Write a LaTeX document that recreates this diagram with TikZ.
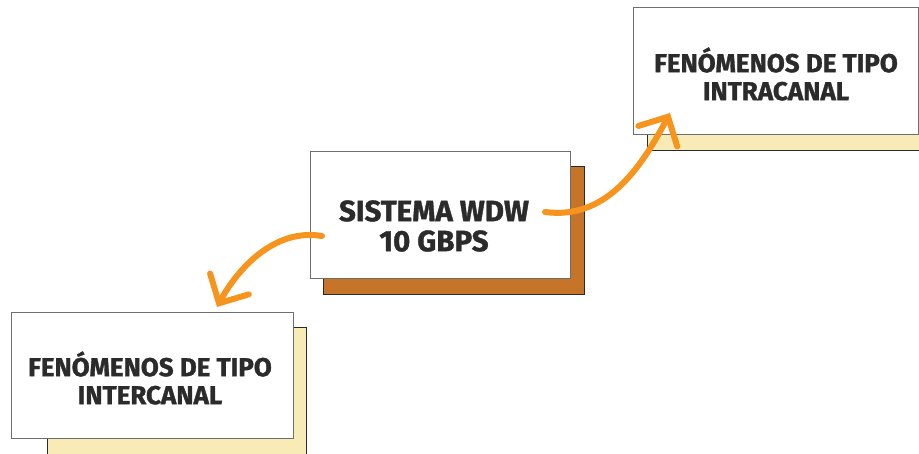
\documentclass[tikz,border=0pt]{standalone}
\usepackage{fontspec}
\setmainfont{Fira Sans}[BoldFeatures={FakeBold=1.2}]
\usetikzlibrary{arrows.meta}
\definecolor{inkgray}{HTML}{2B2B2B}
\definecolor{framegray}{HTML}{6E6E6E}
\definecolor{rust}{HTML}{C67428}
\definecolor{cream}{HTML}{F9EBB5}
\definecolor{tangerine}{HTML}{F7941D}
\tikzset{
  card/.style={draw=framegray, line width=1pt, fill=white, rectangle, inner sep=0pt, anchor=north west},
  backcard/.style={draw=inkgray, line width=0.9pt, rectangle, inner sep=0pt, anchor=north west},
  cardtext/.style={text=inkgray, align=center, font=\fontsize{26}{28}\selectfont\bfseries},
  hubtext/.style={text=inkgray, align=center, font=\fontsize{29.5}{30}\selectfont\bfseries},
  sweep/.style={draw=tangerine, line width=6pt, line cap=round,
    -{Straight Barb[length=22pt,width=44pt,line cap=round]}},
}
\begin{document}
\begin{tikzpicture}[x=1pt,y=-1pt]
\useasboundingbox (0,0) rectangle (919,453);
\begin{scope}
\clip (0,0) rectangle (919,453);
% back plates
\node[backcard, fill=cream, minimum width=290pt, minimum height=128pt] (intra-back) at (647,22) {};
\node[backcard, fill=rust, minimum width=261pt, minimum height=128pt] (sys-back) at (323,166) {};
\node[backcard, fill=cream, minimum width=259pt, minimum height=140pt] (inter-back) at (47,327) {};
% front cards
\node[card, minimum width=285pt, minimum height=127pt] (intra) at (633,7) {};
\node[card, minimum width=260pt, minimum height=127pt] (sys) at (310,151) {};
\node[card, minimum width=282pt, minimum height=126pt] (inter) at (11,312) {};
\end{scope}
% labels
\node[cardtext] (intra-t) at (776,74) {FENÓMENOS DE TIPO\\INTRACANAL};
\node[hubtext] (sys-t) at (434,226) {SISTEMA WDW\\10 GBPS};
\node[cardtext] (inter-t) at (150,378) {FENÓMENOS DE TIPO\\INTERCANAL};
% connectors
\coordinate (up-start) at (545,212);
\coordinate (up-end) at (670,113);
\coordinate (down-start) at (322,236);
\coordinate (down-end) at (217,307);
\draw[sweep] (up-start) .. controls (605,220) and (640,170) .. (up-end);
\draw[sweep] (down-start) .. controls (275,228) and (238,268) .. (down-end);
\end{tikzpicture}
\end{document}
